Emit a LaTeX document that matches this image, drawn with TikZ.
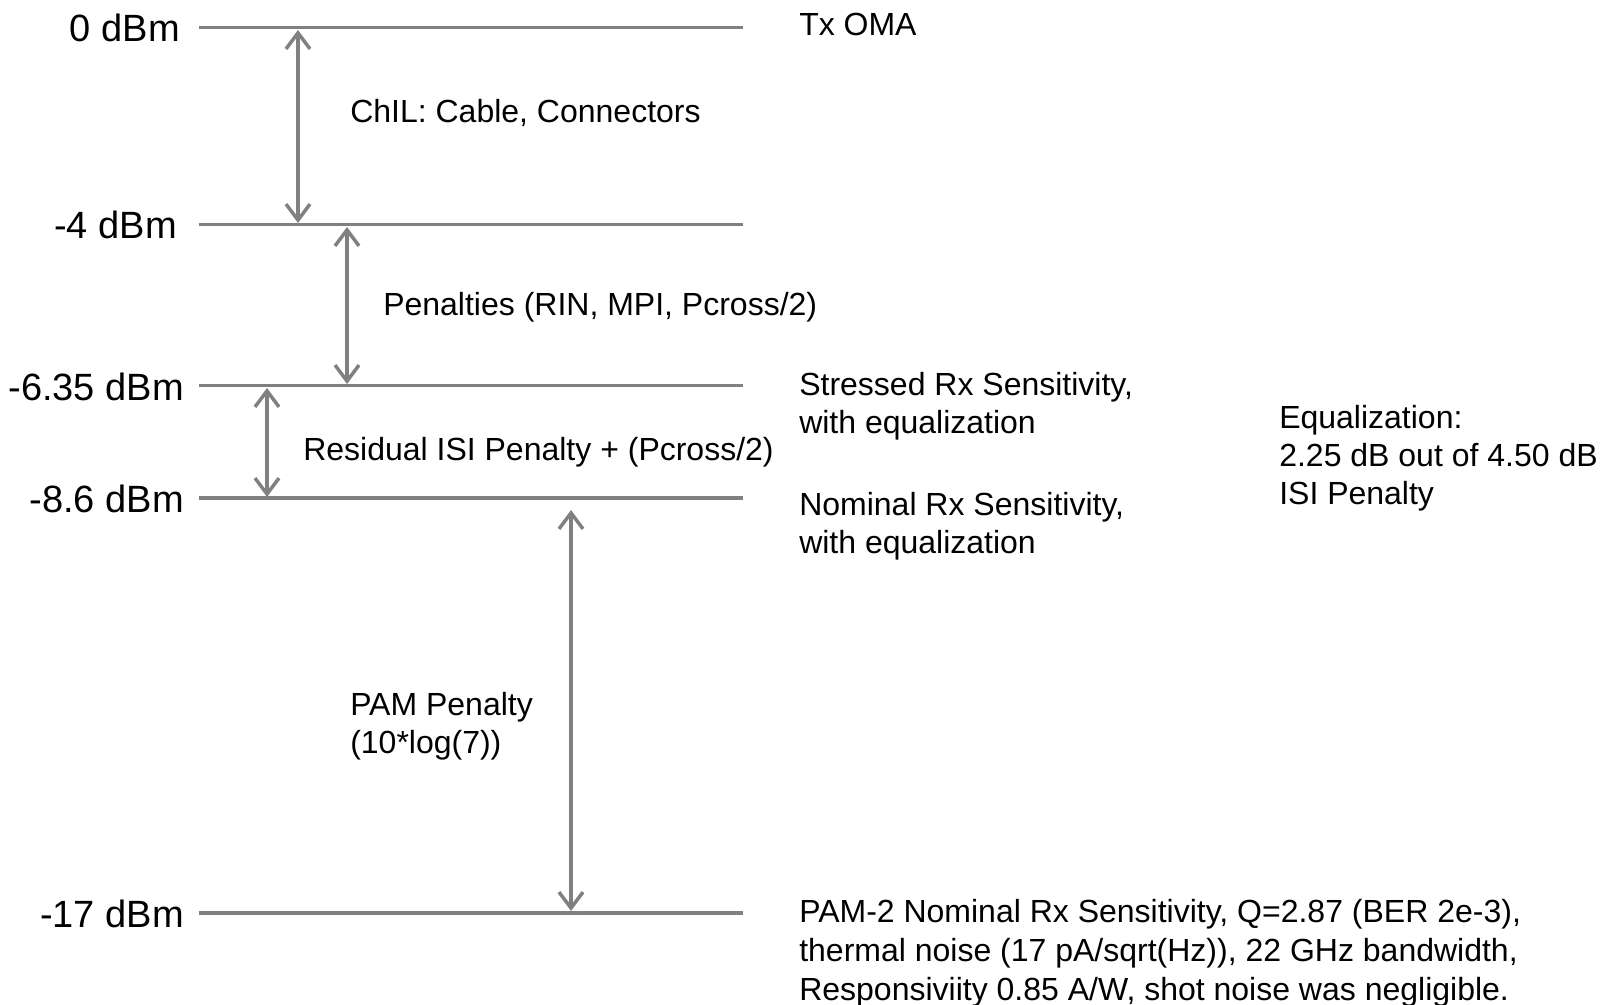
\documentclass[tikz,border=0pt]{standalone}
\usepackage{fontspec}
\setmainfont{Liberation Sans}
\usetikzlibrary{arrows.meta}
\definecolor{lvlgray}{RGB}{128,128,128}
\tikzset{
  level/.style={draw=lvlgray, line width=2.7pt},
  span/.style={draw=lvlgray, line width=2.6pt, {Straight Barb[length=12pt,width=18pt]}-{Straight Barb[length=12pt,width=18pt]}},
  dbm/.style={anchor=east, inner sep=0pt, font=\fontsize{28.5}{32}\selectfont},
  txt/.style={anchor=west, inner sep=0pt, align=left, font=\fontsize{24}{28.6}\selectfont}
}
\begin{document}
\begin{tikzpicture}[x=0.75pt, y=-0.75pt]
\useasboundingbox (0,0) rectangle (1600,1005);
% level lines
\coordinate (l0s) at (199,27.5);   \coordinate (l0e) at (743,27.5);
\coordinate (l4s) at (199,224.5);  \coordinate (l4e) at (743,224.5);
\coordinate (l6s) at (199,385.5);  \coordinate (l6e) at (743,385.5);
\coordinate (l8s) at (199,498);    \coordinate (l8e) at (743,498);
\coordinate (l17s) at (199,913);   \coordinate (l17e) at (743,913);
\draw[level] (l0s) -- (l0e);
\draw[level] (l4s) -- (l4e);
\draw[level] (l6s) -- (l6e);
\draw[level] (l8s) -- (l8e);
\draw[level] (l17s) -- (l17e);
% level labels
\node[dbm] (d0) at (180,28) {0 dBm};
\node[dbm] (d4) at (177,225) {-4 dBm};
\node[dbm] (d6) at (184,387) {-6.35 dBm};
\node[dbm] (d8) at (184,499) {-8.6 dBm};
\node[dbm] (d17) at (184,914) {-17 dBm};
% arrows
\coordinate (a1t) at (298,30);  \coordinate (a1b) at (298,223);
\coordinate (a2t) at (347,227); \coordinate (a2b) at (347,384);
\coordinate (a3t) at (267,388); \coordinate (a3b) at (267,497);
\coordinate (a4t) at (571,510); \coordinate (a4b) at (571,911);
\draw[span] (a1t) -- (a1b);
\draw[span] (a2t) -- (a2b);
\draw[span] (a3t) -- (a3b);
\draw[span] (a4t) -- (a4b);
% interval labels
\node[txt] (chil) at (350,113) {ChIL: Cable, Connectors};
\node[txt] (pen) at (383,307.5) {Penalties (RIN, MPI, Pcross/2)};
\node[txt] (isi) at (303,452) {Residual ISI Penalty + (Pcross/2)};
\node[txt] (pam) at (350,726) {PAM Penalty\\(10*log(7))};
% right labels
\node[txt] (tx) at (799,24) {Tx OMA};
\node[txt] (str) at (799,406) {Stressed Rx Sensitivity,\\with equalization};
\node[txt] (nom) at (799,526) {Nominal Rx Sensitivity,\\with equalization};
\node[txt] (eq) at (1279,458) {Equalization:\\2.25 dB out of 4.50 dB\\ISI Penalty};
\node[txt, font=\fontsize{24}{29.2}\selectfont] (pam2) at (799,953) {PAM-2 Nominal Rx Sensitivity, Q=2.87 (BER 2e-3),\\thermal noise (17 pA/sqrt(Hz)), 22 GHz bandwidth,\\Responsiviity 0.85 A/W, shot noise was negligible.};
\end{tikzpicture}
\end{document}
